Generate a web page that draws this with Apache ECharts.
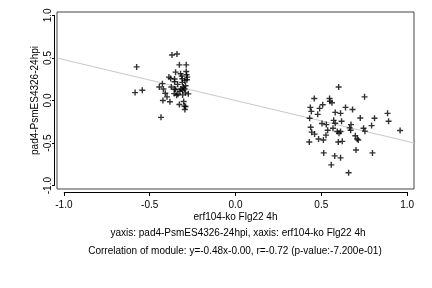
<!DOCTYPE html>
<html>
<head>
<meta charset="utf-8">
<script src="https://cdn.jsdelivr.net/npm/echarts@6/dist/echarts.min.js"></script>
<style>
  html, body { margin: 0; padding: 0; background: #fff; }
  #chart { width: 432px; height: 288px; }
</style>
</head>
<body>
<div id="chart"></div>
<script>
// left cluster (x, y)
const leftX = [-0.576, -0.585, -0.543, -0.37, -0.341, -0.327, -0.287, -0.444, -0.426, -0.42,
  -0.409, -0.399, -0.423, -0.382, -0.434, -0.388, -0.378, -0.374, -0.355, -0.349,
  -0.355, -0.355, -0.357, -0.335, -0.337, -0.327, -0.32, -0.314, -0.31, -0.308,
  -0.308, -0.302, -0.298, -0.295, -0.291, -0.287, -0.285, -0.283, -0.295, -0.304,
  -0.297, -0.291, -0.275, -0.324, -0.31, -0.291, -0.281, -0.318, -0.349, -0.343];
const leftY = [0.395, 0.093, 0.12, 0.535, 0.547, 0.419, 0.419, 0.159, 0.198, 0.136,
  0.085, 0.043, 0.0, -0.015, -0.198, 0.275, 0.26, 0.159, 0.221, 0.333,
  0.252, 0.136, 0.081, 0.073, 0.19, -0.047, 0.314, 0.287, 0.213, 0.12,
  0.066, -0.012, -0.066, -0.105, -0.07, 0.341, 0.302, 0.244, 0.233, 0.159,
  0.136, 0.09, 0.078, 0.108, 0.256, 0.174, 0.275, 0.136, 0.128, 0.062];
// right cluster (x, y)
const rightX = [0.601, 0.752, 0.459, 0.548, 0.55, 0.562, 0.508, 0.436, 0.49, 0.641,
  0.682, 0.442, 0.581, 0.612, 0.479, 0.886, 0.432, 0.727, 0.81, 0.572,
  0.618, 0.892, 0.504, 0.529, 0.673, 0.793, 0.438, 0.665, 0.568, 0.746,
  0.537, 0.671, 0.754, 0.593, 0.612, 0.959, 0.444, 0.603, 0.461, 0.527,
  0.698, 0.484, 0.512, 0.709, 0.715, 0.43, 0.599, 0.622, 0.702, 0.514,
  0.578, 0.798, 0.612, 0.558, 0.659, 0.581];
const rightY = [0.159, 0.043, 0.023, 0.023, -0.008, -0.027, -0.05, -0.081, -0.093, -0.081,
  -0.105, -0.128, -0.14, -0.151, -0.163, -0.151, -0.209, -0.206, -0.209, -0.233,
  -0.244, -0.244, -0.271, -0.283, -0.283, -0.295, -0.314, -0.322, -0.326, -0.326,
  -0.349, -0.349, -0.36, -0.364, -0.364, -0.353, -0.372, -0.384, -0.395, -0.407,
  -0.415, -0.453, -0.465, -0.453, -0.465, -0.488, -0.488, -0.48, -0.581, -0.616,
  -0.651, -0.616, -0.674, -0.756, -0.849, -0.267];

const slope = -0.48;
const intercept = 0.0;
const axisMin = -1.04;
const axisMax = 1.04;
const tickLabels = [-1.0, -0.5, 0.0, 0.5, 1.0];

const points = leftX.map((x, i) => [x, leftY[i]])
  .concat(rightX.map((x, i) => [x, rightY[i]]));
const fitLine = [axisMin, axisMax].map(x => [x, slope * x + intercept]);

const font = 'Liberation Sans, Arial, sans-serif';
const fmt = v => {
  const hit = tickLabels.find(t => Math.abs(t - v) < 1e-9);
  return hit === undefined ? '' : hit.toFixed(1);
};
const txt = { fontFamily: font, fontSize: 10, color: '#000' };

const chart = echarts.init(document.getElementById('chart'));
chart.setOption({
  backgroundColor: '#fff',
  animation: false,
  title: [
    {
      text: 'yaxis: pad4-PsmES4326-24hpi, xaxis: erf104-ko Flg22 4h',
      left: 233, top: 223, textAlign: 'center',
      textStyle: Object.assign({ fontWeight: 'normal' }, txt),
    },
    {
      text: 'Correlation of module: y=-0.48x-0.00, r=-0.72 (p-value:-7.200e-01)',
      left: 230, top: 241, textAlign: 'center',
      textStyle: Object.assign({ fontWeight: 'normal' }, txt),
    },
  ],
  grid: {
    left: 57, right: 18, top: 12, bottom: 99,
    show: true, borderColor: '#444', borderWidth: 1,
  },
  xAxis: {
    type: 'value', min: axisMin, max: axisMax, offset: 3,
    name: 'erf104-ko Flg22 4h', nameLocation: 'middle', nameGap: 20,
    nameMoveOverlap: false,
    nameTextStyle: txt,
    axisLine: { show: false, onZero: false },
    axisTick: { show: true, length: 4, lineStyle: { color: '#000' }, customValues: tickLabels },
    axisLabel: Object.assign({ formatter: fmt, customValues: tickLabels, margin: 8 }, txt),
    splitLine: { show: false },
  },
  yAxis: {
    type: 'value', min: axisMin, max: axisMax, offset: 2,
    name: 'pad4-PsmES4326-24hpi', nameLocation: 'middle', nameGap: 15,
    nameMoveOverlap: false,
    nameTextStyle: txt,
    axisLine: { show: false, onZero: false },
    axisTick: { show: true, length: 3, lineStyle: { color: '#000' }, customValues: tickLabels },
    axisLabel: Object.assign({ rotate: 90, formatter: fmt, customValues: tickLabels, margin: 2 }, txt),
    splitLine: { show: false },
  },
  series: [
    {
      type: 'line',
      data: fitLine,
      symbol: 'none',
      lineStyle: { color: '#c8c8c8', width: 1 },
      z: 1,
    },
    {
      type: 'scatter',
      data: points,
      symbol: 'path://M0,-1L0,1M-1,0L1,0',
      symbolSize: 6,
      itemStyle: { color: 'none', borderColor: '#000', borderWidth: 1.4 },
      z: 2,
    },
  ],
});

// R style axis lines running from the first to the last tick
const lo = chart.convertToPixel('grid', [tickLabels[0], tickLabels[0]]);
const hi = chart.convertToPixel('grid', [tickLabels[tickLabels.length - 1], tickLabels[tickLabels.length - 1]]);
const box = chart.getModel().getComponent('grid').coordinateSystem.getRect();
const axisStyle = { stroke: '#000', lineWidth: 1 };
chart.setOption({
  graphic: [
    { type: 'line', shape: { x1: lo[0], y1: box.y + box.height + 3.5, x2: hi[0], y2: box.y + box.height + 3.5 }, style: axisStyle, silent: true },
    { type: 'line', shape: { x1: box.x - 2.5, y1: lo[1], x2: box.x - 2.5, y2: hi[1] }, style: axisStyle, silent: true },
  ],
});
</script>
</body>
</html>
